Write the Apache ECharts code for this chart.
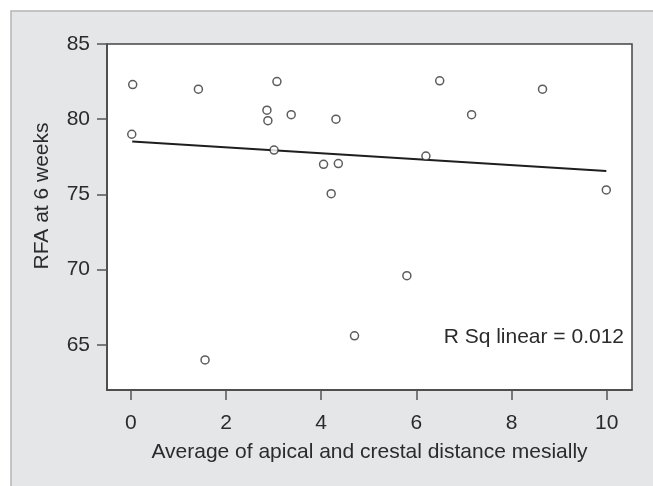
<!DOCTYPE html>
<html>
<head>
<meta charset="utf-8">
<script src="https://cdn.jsdelivr.net/npm/echarts@6/dist/echarts.min.js"></script>
<style>
html,body{margin:0;padding:0;background:#fff;}
#chart{width:653px;height:486px;}
</style>
</head>
<body>
<div id="chart"></div>
<script>
// Data
var xValues = [0.04, 0.02, 1.42, 3.07, 2.86, 2.88, 3.37, 4.31, 3.01, 4.05, 4.36, 6.49, 8.65, 7.16, 6.20, 4.21, 4.70, 1.56, 9.99, 5.80];
var yValues = [82.3, 79.0, 82.0, 82.5, 80.6, 79.9, 80.3, 80.0, 77.95, 77.0, 77.05, 82.55, 82.0, 80.3, 77.55, 75.05, 65.6, 64.0, 75.3, 69.6];
var fitX = [0.03, 9.99];
var fitY = [78.52, 76.55];
var xTicks = [0, 2, 4, 6, 8, 10];
var yTicks = [65, 70, 75, 80, 85];
var xTitle = 'Average of apical and crestal distance mesially';
var yTitle = 'RFA at 6 weeks';
var rsqText = 'R Sq linear = 0.012';

var points = xValues.map(function (x, i) { return [x, yValues[i]]; });
var fitLine = fitX.map(function (x, i) { return [x, fitY[i]]; });

var FONT = '"Liberation Sans", Arial, sans-serif';
var TXT = '#2b2b2b';

var chart = echarts.init(document.getElementById('chart'), null, {renderer: 'canvas'});
chart.setOption({
  animation: false,
  backgroundColor: '#ffffff',
  graphic: [
    {
      type: 'rect', z: -10, silent: true,
      shape: {x: 11, y: 11, width: 700, height: 600},
      style: {fill: '#e5e6e8', stroke: '#b5b5b5', lineWidth: 1.5}
    },
    {
      type: 'text', z: 10, right: 29, top: 327,
      style: {text: rsqText, font: '21px ' + FONT, fill: TXT}
    }
  ],
  grid: {
    left: 107, top: 44, right: 21, bottom: 96,
    show: true, backgroundColor: '#ffffff', borderColor: '#444', borderWidth: 1.5
  },
  xAxis: {
    type: 'value', min: -0.5, max: 10.53,
    name: xTitle, nameLocation: 'middle', nameGap: 52,
    nameTextStyle: {fontFamily: FONT, fontSize: 21, color: TXT},
    axisLine: {show: true, onZero: false, lineStyle: {color: '#444', width: 1.5}},
    splitLine: {show: false},
    axisTick: {show: true, length: 10, customValues: xTicks, lineStyle: {color: '#555', width: 1.5}},
    axisLabel: {customValues: xTicks, margin: 23, fontFamily: FONT, fontSize: 21, color: TXT}
  },
  yAxis: {
    type: 'value', min: 62, max: 85,
    name: yTitle, nameLocation: 'middle', nameGap: 54,
    nameTextStyle: {fontFamily: FONT, fontSize: 21, color: TXT, padding: [0, 0, 0, 42]},
    axisLine: {show: true, onZero: false, lineStyle: {color: '#444', width: 1.5}},
    splitLine: {show: false},
    axisTick: {show: true, length: 10, customValues: yTicks, lineStyle: {color: '#555', width: 1.5}},
    axisLabel: {customValues: yTicks, margin: 17, fontFamily: FONT, fontSize: 21, color: TXT}
  },
  series: [
    {
      type: 'line', data: fitLine, symbol: 'none', silent: true,
      lineStyle: {color: '#1e1e1e', width: 2}, z: 2
    },
    {
      type: 'scatter', data: points, symbol: 'circle', symbolSize: 8,
      itemStyle: {color: '#ffffff', borderColor: '#333', borderWidth: 1.5}, z: 3
    }
  ]
});
</script>
</body>
</html>
